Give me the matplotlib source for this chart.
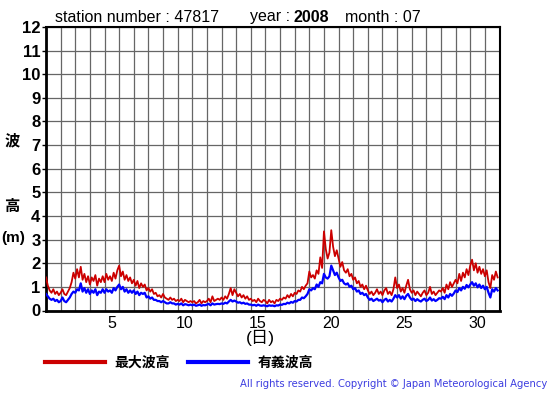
import matplotlib
matplotlib.use("Agg")
import matplotlib.pyplot as plt
import numpy as np

plt.rcParams['font.family'] = ['Liberation Sans', 'Noto Sans CJK JP', 'DejaVu Sans']

station = "47817"
year = "2008"
month = "07"

# 3-hourly samples, 8 per day, days 1..31
hours = [0, 3, 6, 9, 12, 15, 18, 21]
days = list(range(1, 32))

max_wave = [
    1.40, 1.05, 0.85, 0.75, 0.90, 0.70, 0.80, 0.65,   # 1
    0.75, 0.90, 0.70, 0.65, 0.80, 0.95, 1.20, 1.60,   # 2
    1.35, 1.75, 1.40, 1.85, 1.30, 1.55, 1.20, 1.45,   # 3
    1.10, 1.40, 1.25, 1.50, 1.05, 1.35, 1.20, 1.45,   # 4
    1.20, 1.55, 1.30, 1.45, 1.25, 1.60, 1.35, 1.70,   # 5
    1.90, 1.45, 1.65, 1.30, 1.50, 1.25, 1.40, 1.15,   # 6
    1.30, 1.05, 1.25, 0.95, 1.15, 1.00, 1.10, 0.85,   # 7
    0.95, 0.80, 0.90, 0.70, 0.75, 0.60, 0.65, 0.55,   # 8
    0.70, 0.55, 0.50, 0.45, 0.55, 0.45, 0.50, 0.40,   # 9
    0.45, 0.40, 0.50, 0.35, 0.45, 0.40, 0.35, 0.40,   # 10
    0.35, 0.40, 0.30, 0.35, 0.45, 0.30, 0.40, 0.35,   # 11
    0.40, 0.50, 0.35, 0.60, 0.40, 0.45, 0.50, 0.45,   # 12
    0.55, 0.45, 0.60, 0.50, 0.70, 0.95, 0.65, 0.90,   # 13
    0.75, 0.60, 0.70, 0.55, 0.65, 0.50, 0.60, 0.45,   # 14
    0.50, 0.40, 0.45, 0.35, 0.50, 0.40, 0.35, 0.45,   # 15
    0.40, 0.30, 0.45, 0.35, 0.40, 0.30, 0.45, 0.40,   # 16
    0.50, 0.45, 0.55, 0.50, 0.65, 0.55, 0.70, 0.60,   # 17
    0.75, 0.70, 0.85, 0.80, 1.00, 0.90, 1.05, 1.15,   # 18
    1.65, 1.40, 1.50, 1.35, 1.70, 1.55, 2.25, 1.80,   # 19
    3.35, 2.60, 2.20, 2.45, 3.40, 2.70, 2.30, 2.55,   # 20
    2.20, 1.85, 2.05, 1.70, 1.60, 1.75, 1.45, 1.55,   # 21
    1.30, 1.40, 1.15, 1.25, 1.00, 1.10, 0.90, 1.05,   # 22
    0.85, 0.70, 0.80, 0.65, 0.75, 0.90, 0.70, 0.80,   # 23
    0.65, 0.85, 0.95, 0.70, 0.80, 0.65, 0.90, 1.40,   # 24
    0.95, 1.10, 0.80, 0.95, 0.75, 1.05, 1.30, 0.90,   # 25
    0.75, 0.85, 0.65, 0.80, 0.70, 0.60, 0.75, 0.85,   # 26
    0.65, 0.75, 1.00, 0.70, 0.80, 0.65, 0.75, 0.85,   # 27
    0.80, 0.95, 0.75, 1.10, 0.90, 1.20, 1.00, 1.15,   # 28
    1.30, 1.15, 1.55, 1.25, 1.60, 1.40, 1.75, 1.50,   # 29
    1.90, 2.15, 1.70, 2.00, 1.60, 1.85, 1.55, 1.75,   # 30
    1.45, 1.70, 1.20, 0.95, 1.50, 1.30, 1.65, 1.40,   # 31
]

sig_wave = [
    0.70, 0.60, 0.50, 0.45, 0.50, 0.40, 0.45, 0.35,   # 1
    0.40, 0.55, 0.40, 0.35, 0.45, 0.55, 0.70, 0.80,   # 2
    0.75, 0.90, 0.85, 1.15, 0.80, 0.95, 0.75, 0.90,   # 3
    0.70, 0.85, 0.75, 0.90, 0.65, 0.80, 0.75, 0.90,   # 4
    0.75, 0.90, 0.80, 0.85, 0.75, 0.95, 0.85, 1.00,   # 5
    1.10, 0.90, 1.00, 0.80, 0.90, 0.75, 0.85, 0.75,   # 6
    0.85, 0.70, 0.80, 0.65, 0.75, 0.70, 0.75, 0.55,   # 7
    0.60, 0.50, 0.55, 0.45, 0.45, 0.40, 0.40, 0.35,   # 8
    0.40, 0.35, 0.30, 0.30, 0.35, 0.30, 0.30, 0.25,   # 9
    0.28, 0.25, 0.30, 0.22, 0.27, 0.25, 0.22, 0.25,   # 10
    0.22, 0.25, 0.20, 0.22, 0.25, 0.20, 0.23, 0.22,   # 11
    0.25, 0.28, 0.22, 0.30, 0.25, 0.27, 0.28, 0.27,   # 12
    0.30, 0.28, 0.33, 0.30, 0.38, 0.45, 0.38, 0.42,   # 13
    0.38, 0.33, 0.35, 0.30, 0.33, 0.28, 0.30, 0.25,   # 14
    0.25, 0.22, 0.24, 0.20, 0.25, 0.21, 0.20, 0.22,   # 15
    0.20, 0.18, 0.22, 0.20, 0.21, 0.18, 0.22, 0.21,   # 16
    0.25, 0.24, 0.28, 0.27, 0.33, 0.30, 0.36, 0.33,   # 17
    0.40, 0.38, 0.45, 0.45, 0.55, 0.52, 0.60, 0.70,   # 18
    0.90, 0.85, 0.95, 0.90, 1.10, 1.00, 1.20, 1.15,   # 19
    1.55, 1.40, 1.35, 1.45, 1.90, 1.70, 1.50, 1.60,   # 20
    1.40, 1.25, 1.30, 1.15, 1.10, 1.15, 1.00, 1.05,   # 21
    0.90, 0.95, 0.80, 0.85, 0.70, 0.75, 0.65, 0.70,   # 22
    0.55, 0.45, 0.50, 0.40, 0.45, 0.50, 0.42, 0.45,   # 23
    0.35, 0.45, 0.50, 0.38, 0.45, 0.38, 0.50, 0.65,   # 24
    0.55, 0.65, 0.50, 0.60, 0.48, 0.62, 0.70, 0.55,   # 25
    0.45, 0.50, 0.40, 0.48, 0.42, 0.38, 0.45, 0.50,   # 26
    0.40, 0.45, 0.55, 0.42, 0.48, 0.40, 0.45, 0.52,   # 27
    0.50, 0.58, 0.48, 0.65, 0.55, 0.70, 0.62, 0.72,   # 28
    0.85, 0.78, 0.95, 0.85, 1.00, 0.92, 1.08, 0.98,   # 29
    1.10, 1.20, 1.05, 1.15, 0.98, 1.10, 0.95, 1.05,   # 30
    0.90, 1.00, 0.75, 0.55, 0.90, 0.80, 0.95, 0.85,   # 31
]

day_labels = [5, 10, 15, 20, 25, 30]

t = np.array([d + h / 24.0 for d in days for h in hours])

W, H = 555, 395
fig = plt.figure(figsize=(W / 100, H / 100), dpi=100)
ax = fig.add_axes([46 / W, 1 - 310.5 / H, 453.5 / W, 283.5 / H])

red_line, = ax.plot(t, max_wave, color='#cc0000', lw=1.3, zorder=3)
blue_line, = ax.plot(t, sig_wave, color='#0000ff', lw=1.6, zorder=4)

ax.set_xlim(1, 32)
ax.set_ylim(0, 12)

# day boundaries as grid lines, labels in the middle of each day
ax.set_xticks(np.arange(1, 33), minor=True)
ax.set_xticks([d + 0.5 for d in day_labels])
ax.set_xticklabels([str(d) for d in day_labels], fontsize=11.5)
ax.set_yticks(range(0, 13))
ax.set_yticklabels([str(v) for v in range(0, 13)], fontsize=12, fontweight='bold')
ax.tick_params(axis='x', which='both', length=0, pad=4)
ax.tick_params(axis='y', length=3, width=1, pad=1)
ax.grid(True, which='minor', axis='x', color='#666666', lw=0.9)
ax.grid(True, which='major', axis='y', color='#666666', lw=0.9)
ax.set_axisbelow(True)

for s in ['left', 'bottom']:
    ax.spines[s].set_linewidth(2)
for s in ['top', 'right']:
    ax.spines[s].set_linewidth(1.5)

# header
fig.text(55 / W, 1 - 17 / H, "station number : " + station, fontsize=11.5, va='center')
fig.text(250 / W, 1 - 17 / H, "year : ", fontsize=11.5, va='center')
fig.text(294 / W, 1 - 17 / H, year, fontsize=11.5, fontweight='bold', va='center')
fig.text(345 / W, 1 - 17 / H, "month : " + month, fontsize=11.5, va='center')

# y label, stacked
fig.text(12 / W, 1 - 141 / H, "波", fontsize=11, fontweight='bold', ha='center', va='center')
fig.text(12 / W, 1 - 207 / H, "高", fontsize=11, fontweight='bold', ha='center', va='center')
fig.text(13 / W, 1 - 238 / H, "(m)", fontsize=11, fontweight='bold', ha='center', va='center')

# x label
fig.text(260 / W, 1 - 338 / H, "(日)", fontsize=12.5, ha='center', va='center')

leg = fig.legend([red_line, blue_line], ["最大波高", "有義波高"],
                 loc='center left', bbox_to_anchor=(45 / W, 1 - 363 / H),
                 ncol=2, frameon=False, borderpad=0, borderaxespad=0,
                 handlelength=4.3, handletextpad=0.72, columnspacing=1.3,
                 prop={'weight': 'bold', 'size': 10})
for ln in leg.get_lines():
    ln.set_linewidth(3)

fig.text(240 / W, 1 - 384 / H,
         "All rights reserved. Copyright \u00a9 Japan Meteorological Agency",
         fontsize=7.2, color='#3d3de0', va='center', family='DejaVu Sans')

fig.savefig("out.png", dpi=100)
